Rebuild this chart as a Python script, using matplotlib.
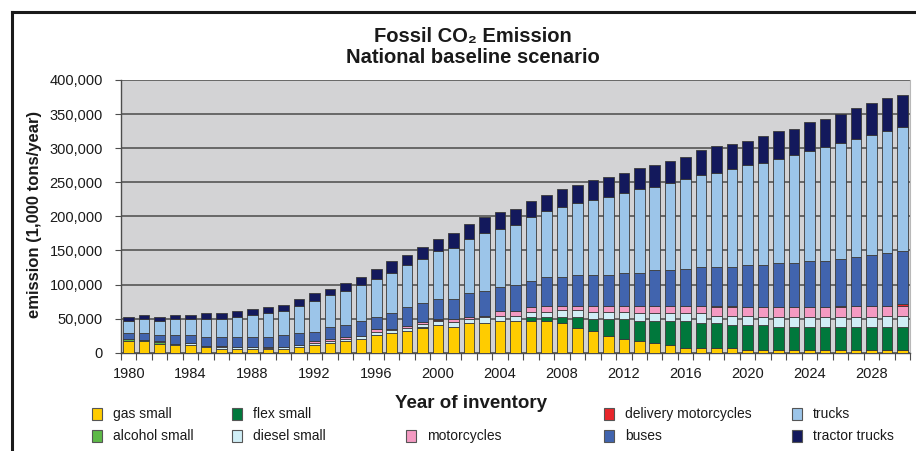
import matplotlib
matplotlib.use('Agg')
import matplotlib.pyplot as plt
import numpy as np
from matplotlib.lines import Line2D
from matplotlib.patches import Rectangle
from matplotlib.ticker import FuncFormatter

plt.rcParams['font.family'] = ['Liberation Sans', 'DejaVu Sans']

# emissions in 1,000 tons/year (x1000 when plotted)
years = list(range(1980, 2031))
gas_small = [17.1, 17.1, 13.2, 10.8, 10.8, 7.8, 4.9, 4.9, 4.9, 4.9,
             4.9, 7.8, 10.8, 13.7, 17.1, 19.5, 25.4, 28.3, 31.8, 36.7,
             40.1, 37.1, 43.0, 43.0, 45.9, 45.9, 45.9, 45.9, 43.0, 36.7,
             31.3, 24.9, 19.5, 16.6, 13.7, 10.8, 7.3, 7.3, 7.3, 7.3,
             4.4, 4.4, 4.4, 4.4, 4.4, 4.4, 4.4, 4.4, 4.4, 4.4, 4.4]
alcohol_small = [2.4, 1.5, 2.0, 1.0, 1.0, 1.0, 0.5, 0.5, 0.5, 0.5,
                 0.5, 0.5, 0.5, 0.5, 0.5, 0.5, 0.5, 0.5, 0.5, 0.5,
                 0.5, 0.5, 0.5, 0.5, 0.5, 0.5, 0, 0, 0, 0,
                 0, 0, 0, 0, 0, 0, 0, 0, 0, 0,
                 0, 0, 0, 0, 0, 0, 0, 0, 0, 0, 0]
flex_small = [0] * 26 + [6.4, 6.4, 9.3, 15.6,
              18.1, 24.4, 29.8, 29.3, 32.3, 35.2, 38.6, 35.7, 35.7, 32.7,
              35.7, 35.7, 32.7, 32.7, 32.7, 32.7, 32.7, 32.7, 32.7, 32.7, 32.7]
diesel_small = [0, 0, 0, 1.5, 2.0, 1.5, 2.4, 2.4, 2.4, 1.5,
                2.4, 2.4, 2.9, 2.9, 2.9, 4.4, 4.9, 4.4, 4.4, 5.4,
                5.9, 7.8, 5.9, 8.3, 7.8, 7.8, 7.8, 7.8, 10.7, 10.7,
                10.7, 10.7, 10.7, 11.7, 11.7, 11.7, 11.7, 14.7, 11.2, 14.2,
                14.2, 12.2, 15.1, 15.1, 15.1, 15.1, 15.1, 15.1, 15.1, 17.1, 17.1]
motorcycles = [0, 0, 2.0, 0, 0, 0, 2.4, 1.0, 0.5, 2.0,
               0.5, 0.5, 2.9, 2.4, 2.0, 0.5, 3.4, 2.0, 2.9, 2.9,
               1.0, 4.4, 3.4, 2.4, 6.4, 6.4, 6.8, 8.3, 5.4, 5.4,
               8.3, 8.3, 8.3, 10.7, 10.3, 10.7, 10.7, 10.7, 12.7, 12.7,
               12.7, 14.7, 14.7, 14.7, 14.7, 14.7, 14.7, 16.6, 16.6, 14.7, 14.7]
delivery_motorcycles = [0] * 20 + [2.0] + [0] * 13 + [1.0] + [0] * 3 + [2.0, 2.0] + \
                       [0] * 6 + [2.0] + [0] * 3 + [2.9]
buses = [8.8, 9.8, 8.3, 12.2, 11.7, 12.2, 12.2, 13.7, 14.2, 13.7,
         17.1, 17.1, 13.7, 17.6, 17.6, 21.5, 18.6, 22.5, 27.9, 26.9,
         29.3, 28.8, 34.2, 36.2, 35.7, 38.6, 37.6, 42.5, 42.5, 45.4,
         45.4, 45.4, 48.9, 48.9, 51.8, 52.3, 54.2, 57.2, 56.7, 56.7,
         61.6, 61.6, 64.5, 64.5, 67.9, 67.9, 68.9, 70.9, 74.3, 77.7, 77.7]
trucks = [17.6, 20.5, 20.5, 23.5, 23.5, 26.4, 26.4, 29.3, 32.3, 35.2,
          35.2, 40.6, 44.5, 46.9, 49.8, 52.8, 54.7, 59.6, 60.6, 65.5,
          70.9, 75.7, 79.7, 84.5, 85.0, 88.5, 94.8, 96.3, 103.1, 106.0,
          109.5, 114.4, 117.3, 122.2, 122.7, 128.5, 132.9, 134.9, 138.3, 144.2,
          146.6, 150.0, 153.0, 159.3, 161.3, 167.1, 170.1, 174.0, 176.4, 178.9, 181.8]
tractor_trucks = [6.8, 6.4, 6.8, 6.4, 6.4, 8.8, 8.8, 9.3, 9.3, 9.3,
                  8.8, 9.8, 11.7, 9.3, 12.7, 12.2, 15.1, 17.6, 15.6, 17.1,
                  17.6, 21.5, 21.5, 24.4, 24.4, 23.5, 23.9, 24.4, 26.4, 26.4,
                  29.3, 29.8, 29.3, 30.8, 32.3, 32.7, 32.3, 36.2, 39.1, 36.2,
                  35.7, 38.6, 41.1, 37.6, 42.0, 41.1, 41.5, 45.4, 47.4, 47.9, 47.4]

labels = ['gas small', 'alcohol small', 'flex small', 'diesel small', 'motorcycles',
          'delivery motorcycles', 'buses', 'trucks', 'tractor trucks']
series = [gas_small, alcohol_small, flex_small, diesel_small, motorcycles,
          delivery_motorcycles, buses, trucks, tractor_trucks]
colors = ['#FFCC00', '#5DB947', '#00783C', '#D0EEF6', '#F49AC2',
          '#E8262B', '#4164AE', '#9CC5E9', '#13195C']
# legend placement (pixel x of marker, row)
leg_x = [92, 92, 232, 232, 406, 604, 604, 792, 792]
leg_row = [0, 1, 0, 1, 1, 0, 1, 0, 1]

W, H = 916, 451
fig = plt.figure(figsize=(W / 100, H / 100), dpi=100)
ax = fig.add_axes([121 / W, 1 - 352.7 / H, (910 - 121) / W, (352.7 - 80) / H])
ax.set_facecolor('#d3d3d5')

x = np.arange(len(years))
bottom = np.zeros(len(years))
for vals, lab, col in zip(series, labels, colors):
    v = np.array(vals) * 1000
    ax.bar(x, v, 0.68, bottom=bottom, color=col, edgecolor='#3a3a3a',
           linewidth=0.6, label=lab, zorder=3)
    bottom += v

ax.set_xlim(-0.5, len(years) - 0.5)
ax.set_ylim(0, 400000)
ax.set_yticks(np.arange(0, 400001, 50000))
ax.yaxis.set_major_formatter(FuncFormatter(lambda v, p: f'{int(v):,}'))
ax.grid(axis='y', color='#4a4a4a', linewidth=1.1, zorder=1)
ax.set_axisbelow(True)

ax.set_xticks([i for i, y in enumerate(years) if (y - 1980) % 4 == 0])
ax.set_xticklabels([str(y) for y in years if (y - 1980) % 4 == 0])
ax.set_xticks(np.arange(-0.5, len(years)), minor=True)
ax.tick_params(axis='x', which='major', length=0, pad=10, labelsize=10.5, colors='#1a1a1a')
ax.tick_params(axis='x', which='minor', length=5, width=0.8, color='#4d4d4d')
ax.tick_params(axis='y', length=4, width=0.8, color='#4d4d4d', pad=9, labelsize=10.5,
               labelcolor='#1a1a1a')

for s in ['left', 'bottom']:
    ax.spines[s].set_color('#4d4d4d')
    ax.spines[s].set_linewidth(1.0)
ax.spines['top'].set_visible(False)
ax.spines['right'].set_color('#b8b8b8')
ax.spines['right'].set_linewidth(0.8)

# titles and labels
fig.text(473 / W, 1 - 42 / H, 'Fossil CO₂ Emission', ha='center', va='baseline',
         fontsize=14.5, fontweight='bold', color='#1a1a1a')
fig.text(473 / W, 1 - 63 / H, 'National baseline scenario', ha='center', va='baseline',
         fontsize=14.5, fontweight='bold', color='#1a1a1a')
fig.text(35 / W, 1 - 214 / H, 'emission (1,000 tons/year)', rotation=90,
         ha='center', va='center', fontsize=12, fontweight='bold', color='#1a1a1a')
fig.text(471 / W, 1 - 404 / H, 'Year of inventory', ha='center', va='center',
         fontsize=13.5, fontweight='bold', color='#1a1a1a')

# legend
row_y = [414, 436]
for lab, col, lx, r in zip(labels, colors, leg_x, leg_row):
    yc = row_y[r]
    fig.add_artist(Rectangle((lx / W, 1 - (yc + 6) / H), 10 / W, 12 / H,
                             facecolor=col, edgecolor='#555555', linewidth=0.8,
                             transform=fig.transFigure))
    fig.text((lx + 21) / W, 1 - yc / H, lab, ha='left', va='center',
             fontsize=10, color='#1a1a1a')

# outer frame
fig.add_artist(Line2D([12 / W, 1], [1 - 12 / H, 1 - 12 / H], color='#1a1a1a',
                      linewidth=2.2, transform=fig.transFigure))
fig.add_artist(Line2D([12 / W, 12 / W], [1 - 12 / H, 0], color='#1a1a1a',
                      linewidth=2.2, transform=fig.transFigure))

fig.savefig('out.png', dpi=100)
